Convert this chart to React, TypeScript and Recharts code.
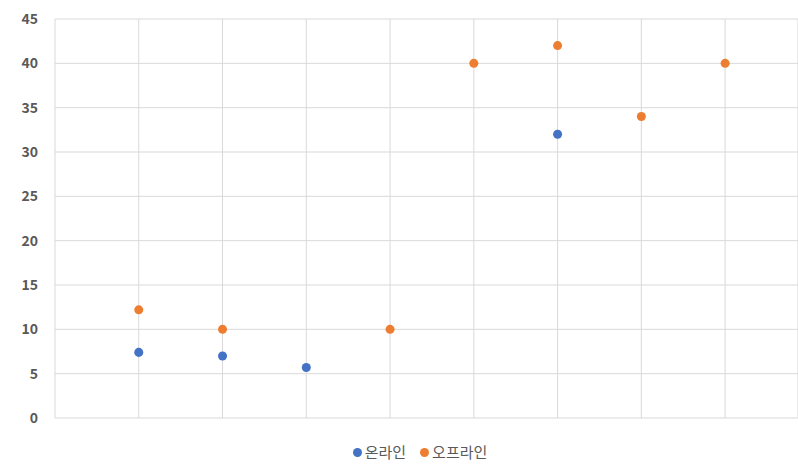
import { ScatterChart, Scatter, XAxis, YAxis, ZAxis, CartesianGrid } from "recharts";

const onlineX = [1, 2, 3, 6];
const onlineY = [7.4, 7.0, 5.7, 32];
const offlineX = [1, 2, 4, 5, 6, 7, 8];
const offlineY = [12.2, 10, 10, 40, 42, 34, 40];
const yTicks = [0, 5, 10, 15, 20, 25, 30, 35, 40, 45];
const xTicks = [0, 1, 2, 3, 4, 5, 6, 7, 8];
const seriesNames = ["온라인", "오프라인"];
const colors = ["#4472C4", "#ED7D31"];

const online = onlineX.map((x, i) => ({ x, y: onlineY[i] }));
const offline = offlineX.map((x, i) => ({ x, y: offlineY[i] }));

const font = '"Noto Sans CJK KR", "Noto Sans", sans-serif';

export default function App() {
  return (
    <div style={{ position: "absolute", left: 0, top: 0, width: 798, height: 465, background: "#fff", fontFamily: font, overflow: "hidden" }}>
      <ScatterChart width={798} height={465} margin={{ top: 19, right: 0, left: 0, bottom: 47 }}>
        <CartesianGrid stroke="#d9d9d9" />
        <XAxis
          type="number"
          dataKey="x"
          domain={[0, 8.87]}
          ticks={xTicks}
          allowDataOverflow
          tickFormatter={() => ""}
          tickLine={false}
          height={0}
          axisLine={{ stroke: "#d9d9d9" }}
        />
        <YAxis
          type="number"
          dataKey="y"
          domain={[0, 45]}
          ticks={yTicks}
          width={55}
          axisLine={false}
          tickLine={false}
          tickSize={0}
          tickMargin={17}
          tick={{ fontSize: 14, fontWeight: 700, fill: "#595959", fontFamily: font }}
        />
        <ZAxis range={[95, 95]} />
        <Scatter name={seriesNames[0]} data={online} fill={colors[0]} isAnimationActive={false} />
        <Scatter name={seriesNames[1]} data={offline} fill={colors[1]} isAnimationActive={false} />
      </ScatterChart>
      <div
        style={{
          position: "absolute",
          top: 443,
          left: 42,
          width: 756,
          display: "flex",
          justifyContent: "center",
          gap: 14,
          fontSize: 15,
          lineHeight: "18px",
          color: "#595959",
        }}
      >
        {seriesNames.map((n, i) => (
          <div key={n} style={{ display: "flex", alignItems: "center", gap: 3 }}>
            <span style={{ width: 9, height: 9, borderRadius: "50%", background: colors[i], display: "inline-block" }} />
            <span>{n}</span>
          </div>
        ))}
      </div>
    </div>
  );
}
